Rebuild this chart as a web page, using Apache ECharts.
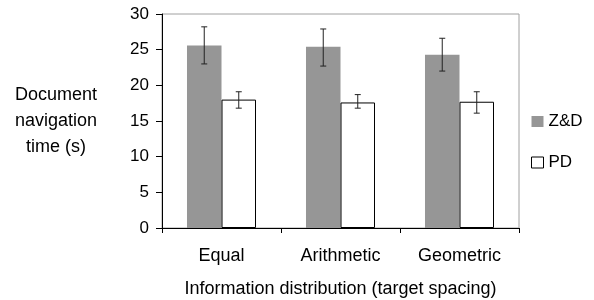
<!DOCTYPE html>
<html>
<head>
<meta charset="utf-8">
<script src="https://cdn.jsdelivr.net/npm/echarts@6/dist/echarts.min.js"></script>
<style>
  html, body { margin: 0; padding: 0; background: #fff; }
  #chart { width: 594px; height: 300px; }
</style>
</head>
<body>
<div id="chart"></div>
<script>
// categories and values
const categories = ['Equal', 'Arithmetic', 'Geometric']
const zdMean = [25.6, 25.4, 24.3]
const zdLow = [23.0, 22.7, 22.0]
const zdHigh = [28.2, 27.9, 26.6]
const pdMean = [18.0, 17.6, 17.7]
const pdLow = [16.8, 16.8, 16.1]
const pdHigh = [19.1, 18.7, 19.1]
const yTicks = [0, 5, 10, 15, 20, 25, 30]

const FONT = 'Liberation Sans'
const chart = echarts.init(document.getElementById('chart'))

// error bar drawn at the centre of each bar
function errorBars(side) {
  return function (params, api) {
    const x = api.value(0)
    const low = api.coord([x, api.value(1)])
    const high = api.coord([x, api.value(2)])
    const band = api.size([1, 0])[0]
    const cx = low[0] + side * band * 0.145
    const cap = 3
    const style = { stroke: '#222', lineWidth: 1 }
    return {
      type: 'group',
      children: [
        { type: 'line', shape: { x1: cx, y1: high[1], x2: cx, y2: low[1] }, style },
        { type: 'line', shape: { x1: cx - cap, y1: high[1], x2: cx + cap, y2: high[1] }, style },
        { type: 'line', shape: { x1: cx - cap, y1: low[1], x2: cx + cap, y2: low[1] }, style }
      ]
    }
  }
}

const option = {
  animation: false,
  textStyle: { fontFamily: FONT },
  grid: {
    left: 162, right: 75, top: 14, bottom: 72,
    outerBoundsMode: 'none',
    show: true, borderColor: '#a0a0a0', borderWidth: 1
  },
  legend: {
    data: ['Z&D', 'PD'],
    orient: 'vertical',
    left: 526,
    top: 108,
    itemWidth: 12,
    itemHeight: 11,
    itemGap: 24,
    icon: 'rect',
    itemStyle: { borderWidth: 1 },
    textStyle: { fontFamily: FONT, fontSize: 17, color: '#000', padding: [0, 0, 0, 0] }
  },
  xAxis: {
    type: 'category',
    data: categories,
    name: 'Information distribution (target spacing)',
    nameLocation: 'middle',
    nameGap: 52,
    nameTextStyle: { fontFamily: FONT, fontSize: 18, color: '#000' },
    axisLine: { lineStyle: { color: '#000', width: 1 } },
    axisTick: { show: true, length: 5, lineStyle: { color: '#000' } },
    axisLabel: { fontFamily: FONT, fontSize: 18, color: '#000', margin: 19 }
  },
  yAxis: {
    type: 'value',
    min: 0,
    max: 30,
    interval: 5,
    axisLine: { show: true, lineStyle: { color: '#000', width: 1 } },
    axisTick: { show: true, length: 6, lineStyle: { color: '#000' } },
    splitLine: { show: false },
    axisLabel: {
      fontFamily: FONT, fontSize: 17, color: '#000', margin: 13,
      formatter: v => (yTicks.includes(v) ? String(v) : '')
    }
  },
  graphic: [{
    type: 'text',
    x: 56,
    y: 82,
    style: {
      text: 'Document\nnavigation\ntime (s)',
      fontFamily: FONT,
      fontSize: 18,
      lineHeight: 26,
      align: 'center',
      verticalAlign: 'top',
      fill: '#000'
    }
  }],
  series: [
    {
      name: 'Z&D',
      type: 'bar',
      data: zdMean,
      barCategoryGap: '42%',
      barGap: '0%',
      itemStyle: { color: '#969696' }
    },
    {
      name: 'PD',
      type: 'bar',
      data: pdMean,
      barCategoryGap: '42%',
      barGap: '0%',
      itemStyle: { color: '#fff', borderColor: '#000', borderWidth: 1 }
    },
    {
      type: 'custom',
      renderItem: errorBars(-1),
      data: categories.map((c, i) => [i, zdLow[i], zdHigh[i]]),
      encode: { x: 0, y: [1, 2] },
      z: 10
    },
    {
      type: 'custom',
      renderItem: errorBars(1),
      data: categories.map((c, i) => [i, pdLow[i], pdHigh[i]]),
      encode: { x: 0, y: [1, 2] },
      z: 10
    }
  ]
}

chart.setOption(option)
</script>
</body>
</html>
